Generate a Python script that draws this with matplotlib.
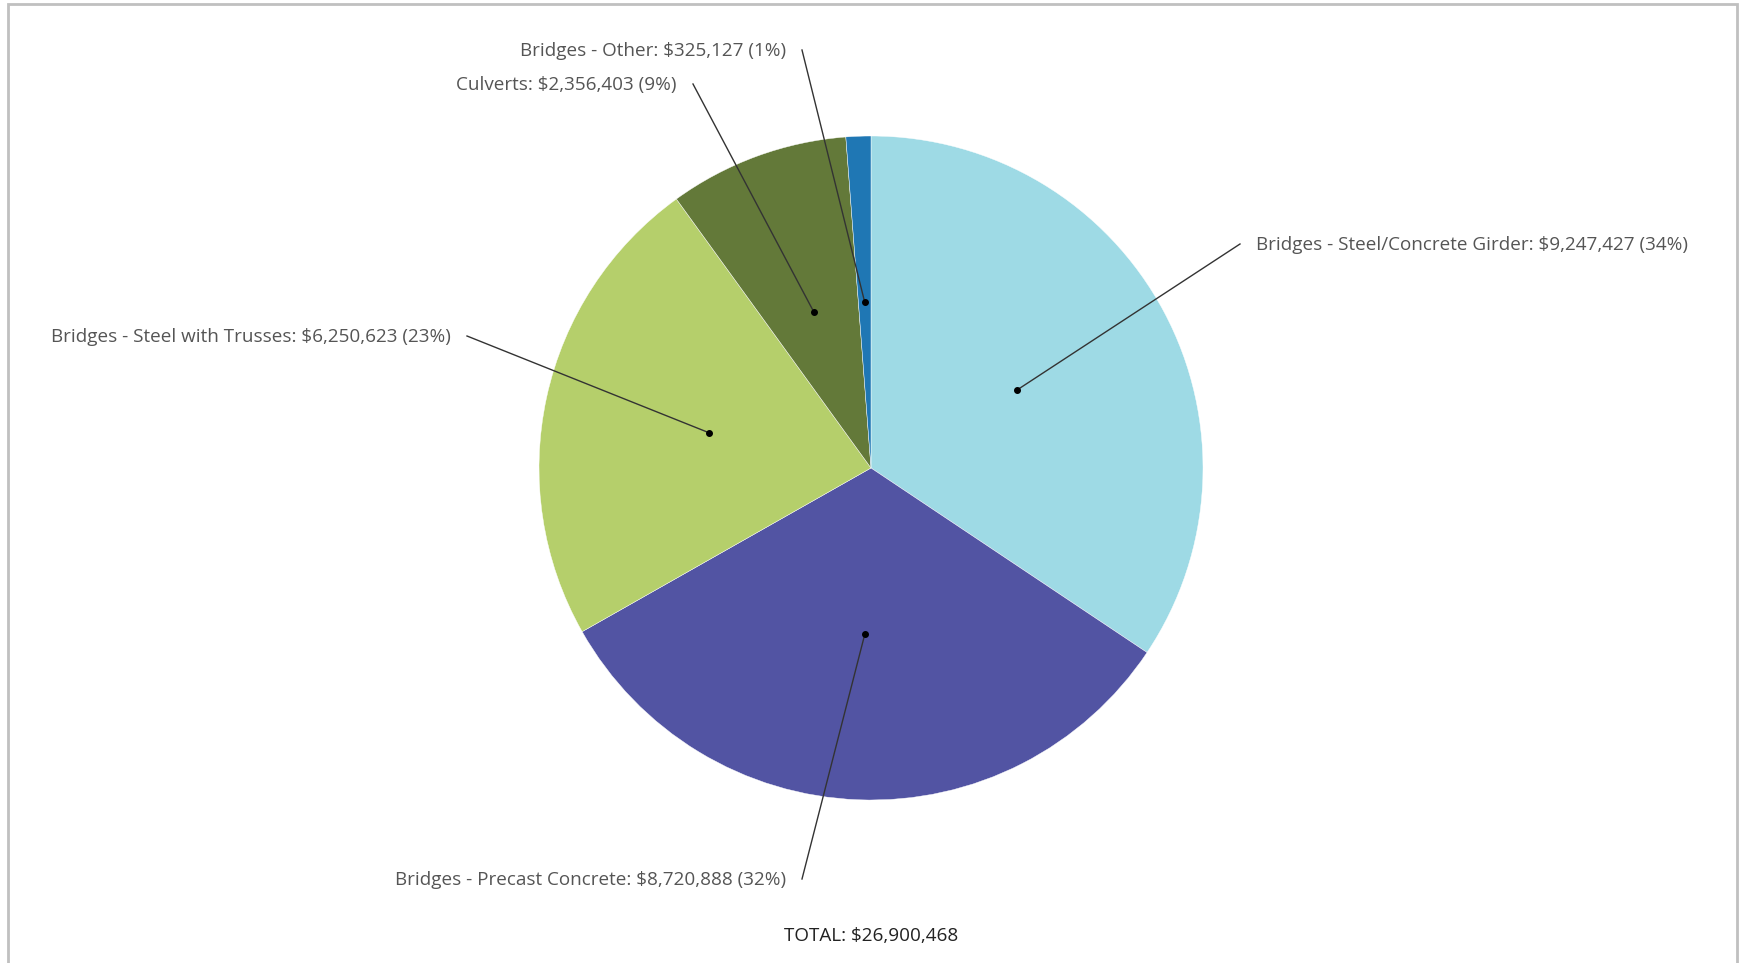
import numpy as np
import matplotlib
matplotlib.use("Agg")
import matplotlib.pyplot as plt
from matplotlib.patches import Rectangle

plt.rcParams['font.family'] = ['Open Sans', 'DejaVu Sans']

# Spend by structure type
categories = ['Bridges - Steel/Concrete Girder', 'Bridges - Precast Concrete',
              'Bridges - Steel with Trusses', 'Culverts', 'Bridges - Other']
amounts = [9247427, 8720888, 6250623, 2356403, 325127]
colors = ['#9edae5', '#5254a3', '#b5cf6b', '#637939', '#1f77b4']

# where each label sits (pixel coords, y from top) and how it is anchored
label_pos = [(1256, 245), (786, 880), (451, 337), (677, 85), (786, 51)]
label_ha = ['left', 'right', 'right', 'right', 'right']

W, H = 1739, 963
fig = plt.figure(figsize=(W / 100, H / 100), dpi=100)
ax = fig.add_axes([0, 0, 1, 1])

cx, cy, r = 871, H - 468, 332
ax.pie(amounts, colors=colors, startangle=90, counterclock=False,
       center=(cx, cy), radius=r, frame=True,
       wedgeprops=dict(linewidth=0.3, edgecolor='white'))
ax.set_xlim(0, W)
ax.set_ylim(0, H)
ax.set_aspect('equal')
ax.axis('off')

total = sum(amounts)
ang0 = 90.0
for name, amt, (lx, ly), ha in zip(categories, amounts, label_pos, label_ha):
    span = amt / total * 360
    mid = np.deg2rad(ang0 - span / 2)
    ang0 -= span
    dx, dy = cx + 0.5 * r * np.cos(mid), cy + 0.5 * r * np.sin(mid)
    pct = round(amt / total * 100)
    text = f"{name}: ${amt:,} ({pct}%)"
    ty = H - ly
    ax.text(lx, ty, text, ha=ha, va='center', fontsize=13.6, color='#555555')
    # leader line starts just beyond the text end
    sx = lx - 16 if ha == 'left' else lx + 16
    ax.plot([sx, dx], [ty + 1, dy], color='#333333', lw=1.0)
    ax.plot(dx, dy, 'o', color='black', ms=4)

ax.text(cx, H - 936, f"TOTAL: ${total:,}", ha='center', va='center',
        fontsize=13.6, color='#222222')

# light frame around the chart area
ax.add_patch(Rectangle((8, -10), 1729, H - 4 + 10, fill=False,
                       edgecolor='#c0c0c0', lw=2, clip_on=False))

fig.savefig('out.png', dpi=100)
